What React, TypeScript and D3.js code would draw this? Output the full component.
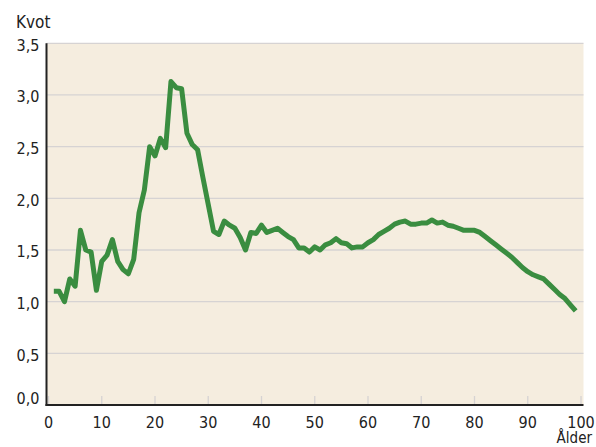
import React from "react";
import * as d3 from "d3";

const ages: number[] = Array.from({ length: 99 }, (_, i) => i + 1);
const kvot: number[] = [
  1.1, 1.1, 1.0, 1.22, 1.15, 1.69, 1.5, 1.48, 1.11, 1.39,
  1.45, 1.6, 1.39, 1.31, 1.27, 1.41, 1.86, 2.08, 2.5, 2.41,
  2.58, 2.49, 3.13, 3.07, 3.06, 2.63, 2.52, 2.47, 2.2, 1.94,
  1.68, 1.65, 1.78, 1.74, 1.71, 1.62, 1.5, 1.67, 1.66, 1.74,
  1.67, 1.69, 1.71, 1.67, 1.63, 1.6, 1.52, 1.52, 1.48, 1.53,
  1.5, 1.55, 1.57, 1.61, 1.57, 1.56, 1.52, 1.53, 1.53, 1.57,
  1.6, 1.65, 1.68, 1.71, 1.75, 1.77, 1.78, 1.75, 1.75, 1.76,
  1.76, 1.79, 1.76, 1.77, 1.74, 1.73, 1.71, 1.69, 1.69, 1.69,
  1.67, 1.63, 1.59, 1.55, 1.51, 1.47, 1.43, 1.38, 1.33, 1.29,
  1.26, 1.24, 1.22, 1.17, 1.12, 1.07, 1.03, 0.97, 0.91,
];
const yTicks: number[] = [0, 0.5, 1, 1.5, 2, 2.5, 3, 3.5];
const xTicks: number[] = [0, 10, 20, 30, 40, 50, 60, 70, 80, 90, 100];

const W = 596;
const H = 447;
const FONT = "'DejaVu Sans Condensed', 'DejaVu Sans', sans-serif";

export default function App() {
  const x = d3.scaleLinear().domain([0, 100]).range([48.5, 581]);
  const y = d3.scaleLinear().domain([0, 3.5]).range([405, 43.3]);
  const line = d3
    .line<number>()
    .x((_, i) => x(ages[i]))
    .y((d) => y(d));
  const fmt = (v: number) => v.toFixed(1).replace(".", ",");
  const left = 46.5;
  const right = 583.5;
  return (
    <svg width={W} height={H} style={{ position: "absolute", left: 0, top: 0 }}>
      <rect x={left} y={y(3.5)} width={right - left} height={y(0) - y(3.5)} fill="#f5eddf" />
      {yTicks.slice(1).map((t) => (
        <line key={t} x1={left} x2={right} y1={y(t)} y2={y(t)} stroke="#d6d3d3" strokeWidth={1.3} />
      ))}
      {xTicks.map((t) => (
        <line key={t} x1={x(t)} x2={x(t)} y1={y(0)} y2={y(0) - 9} stroke="#d6d3d3" strokeWidth={1.3} />
      ))}
      <path d={line(kvot) || ""} fill="none" stroke="#3a8d40" strokeWidth={5} strokeLinejoin="round" />
      <line x1={left} x2={left} y1={y(3.5)} y2={y(0) + 1} stroke="#222" strokeWidth={2} />
      <line x1={left - 1} x2={right} y1={y(0)} y2={y(0)} stroke="#222" strokeWidth={2} />
      {yTicks.map((t) => (
        <text
          key={t}
          x={39.5}
          y={t === 0 ? y(t) - 1 : y(t) + 7.3}
          textAnchor="end"
          fontFamily={FONT}
          fontSize={16}
          fill="#222"
        >
          {fmt(t)}
        </text>
      ))}
      {xTicks.map((t) => (
        <text key={t} x={x(t)} y={y(0) + 22.5} textAnchor="middle" fontFamily={FONT} fontSize={16} fill="#222">
          {t}
        </text>
      ))}
      <text x={16} y={28} fontFamily={FONT} fontSize={17} fill="#222">Kvot</text>
      <text x={592} y={443} textAnchor="end" fontFamily={FONT} fontSize={15} fill="#222">Ålder</text>
    </svg>
  );
}
